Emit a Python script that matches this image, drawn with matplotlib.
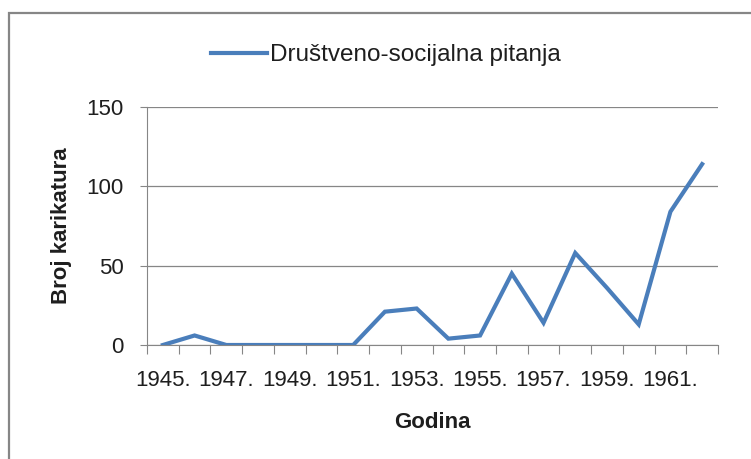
import numpy as np
import matplotlib
matplotlib.use("Agg")
import matplotlib.pyplot as plt
from matplotlib.patches import Rectangle

# data
years = [1945, 1946, 1947, 1948, 1949, 1950, 1951, 1952, 1953,
         1954, 1955, 1956, 1957, 1958, 1959, 1960, 1961, 1962]
counts = [0, 6, 0, 0, 0, 0, 0, 21, 23, 4, 6, 45, 14, 58, 36, 13, 84, 114]
series_name = "Društveno-socijalna pitanja"
x_title = "Godina"
y_title = "Broj karikatura"
y_ticks = [0, 50, 100, 150]

plt.rcParams['font.family'] = ['Liberation Sans', 'DejaVu Sans']
gray = "#868686"
blue = "#4A7EBB"
txt = "#1e1e1e"

fig = plt.figure(figsize=(7.51, 4.59), dpi=100)
ax = fig.add_axes([147/751, 1 - 345/459, (718 - 147)/751, (345 - 107)/459])

# outer chart frame (cut off at right and bottom like the screenshot)
fig.patches.append(Rectangle((9/751, -0.1), 1.2, 1.1 - 13/459,
                             transform=fig.transFigure, fill=False,
                             edgecolor=gray, linewidth=1.6))

xpos = np.arange(len(years))
ax.plot(xpos, counts, color=blue, linewidth=3, label=series_name,
        solid_joinstyle="miter")

ax.set_xlim(-0.5, len(years) - 0.5)
ax.set_ylim(0, 150)
ax.set_yticks(y_ticks)
ax.set_yticklabels([str(v) for v in y_ticks])
ax.yaxis.grid(True, color=gray, linewidth=0.9)
ax.set_axisbelow(True)

# tick marks between categories, labels every second year
ax.set_xticks(np.arange(-0.5, len(years)), [""] * (len(years) + 1))
ax.set_xticks(xpos[::2], ["%d." % y for y in years[::2]], minor=True)
ax.tick_params(axis="x", which="major", length=6.5, width=0.8, color=gray,
               direction="out")
ax.tick_params(axis="x", which="minor", length=0, pad=18, labelsize=16,
               labelcolor=txt)
ax.tick_params(axis="y", length=5, width=0.8, color=gray, pad=12,
               labelsize=16, labelcolor=txt)

for side in ["top", "right"]:
    ax.spines[side].set_visible(False)
ax.spines["left"].set_color(gray)
ax.spines["bottom"].set_color(gray)

fig.text(432/751, 1 - 423/459, x_title, ha="center", va="center",
         fontsize=16, fontweight="bold", color=txt)
fig.text(61/751, 1 - 226/459, y_title, ha="center", va="center",
         rotation=90, fontsize=16, fontweight="bold", color=txt)

ax.legend(loc="center", bbox_to_anchor=(386/751, 1 - 55/459),
          bbox_transform=fig.transFigure, frameon=False, fontsize=17.5,
          handlelength=2.3, handletextpad=0.15, labelcolor=txt)

fig.savefig("out.png", dpi=100)
